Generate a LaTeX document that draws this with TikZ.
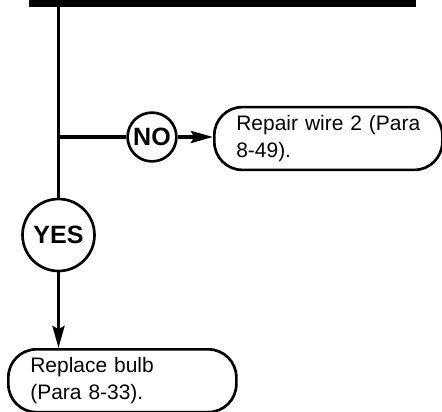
\documentclass[tikz,border=0pt]{standalone}
\usepackage{fontspec}
\setmainfont{Liberation Sans}
\usetikzlibrary{arrows.meta}

\begin{document}
\begin{tikzpicture}[
    line/.style={line width=2.4pt},
    answer/.style={circle, draw, line width=1.9pt, inner sep=0pt, font=\fontsize{17.8}{20}\selectfont\bfseries},
    action/.style={draw, line width=1.9pt, rounded corners=0.7cm, align=left, text width=4.6cm, inner xsep=0.55cm, inner ysep=0pt, minimum height=1.57cm, font=\fontsize{14.9}{19.2}\selectfont},
    >={Stealth[length=0.55cm, width=0.3cm, inset=0.08cm]}]
    \useasboundingbox (0,0) rectangle (11.05,-10.3);
    \fill (0.725,0) rectangle (10.4,-0.1675);
    \coordinate (top) at (1.4625,-0.1);
    \coordinate (branch) at (1.4625,-3.425);
    \node[answer, minimum size=1.22cm] (no) at (3.8,-3.425) {NO};
    \node[action, anchor=west] (repair) at (5.325,-3.4625) {Repair wire 2 (Para\\8-49).};
    \node[answer, minimum size=1.8cm] (yes) at (1.4625,-5.875) {YES};
    \node[action, anchor=north west] (bulb) at (0.175,-8.7) {Replace bulb\\(Para 8-33).};
    \draw[line] (top) -- (yes);
    \draw[line] (branch) -- (no);
    \draw[line,->] (no) -- (no -| repair.west);
    \draw[line,->] (yes) -- (bulb.north -| yes);
\end{tikzpicture}
\end{document}
